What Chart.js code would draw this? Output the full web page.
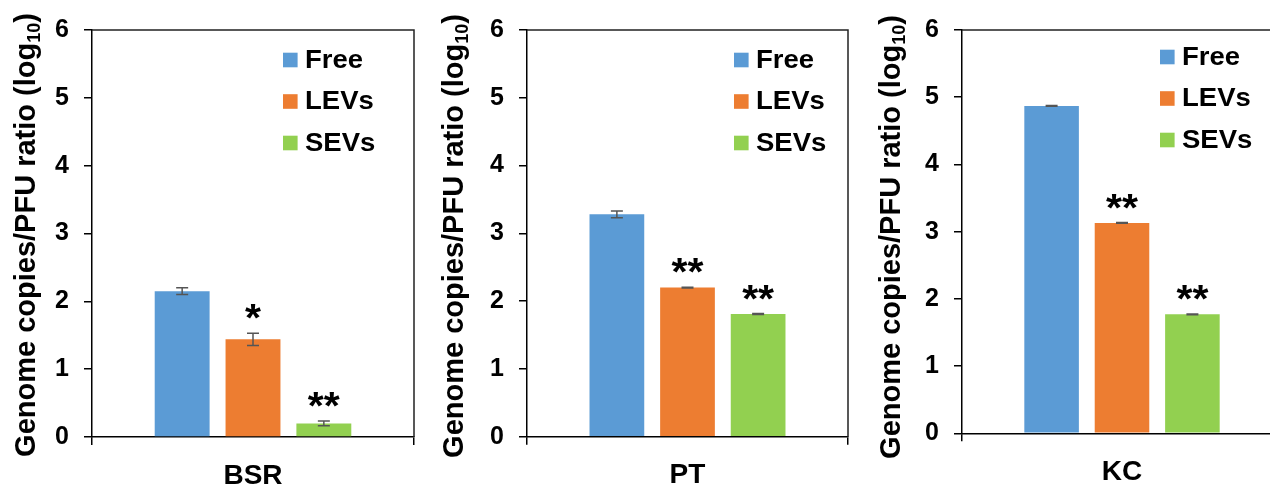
<!DOCTYPE html>
<html><head><meta charset="utf-8">
<script src="https://cdn.jsdelivr.net/npm/chart.js@4/dist/chart.umd.min.js"></script>
<style>
html,body{margin:0;padding:0;background:#fff;overflow:hidden;width:1270px;height:487px}
.panel{position:absolute;top:0;height:487px;overflow:hidden}
canvas{display:block}
</style></head><body>
<div class="panel" id="p0"><canvas id="c0"></canvas></div>
<div class="panel" id="p1"><canvas id="c1"></canvas></div>
<div class="panel" id="p2"><canvas id="c2"></canvas></div>
<script>
// ---- data ----
const categories = ['BSR', 'PT', 'KC'];
const seriesNames = ['Free', 'LEVs', 'SEVs'];
const freeValues = [2.15, 3.28, 4.87];
const levsValues = [1.44, 2.20, 3.13];
const sevsValues = [0.20, 1.81, 1.77];
const freeErrors = [0.05, 0.05, 0.005];
const levsErrors = [0.09, 0.006, 0.006];
const sevsErrors = [0.035, 0.006, 0.006];
const freeMarks = ['', '', ''];
const levsMarks = ['*', '**', '**'];
const sevsMarks = ['**', '**', '**'];
const yTicks = [0, 1, 2, 3, 4, 5, 6];
const yTitleMain = 'Genome copies/PFU ratio (log';
const yTitleSub = '10';
const yTitleEnd = ')';

// ---- styles / layout ----
const seriesColors = ['#5B9BD5', '#ED7D31', '#92D050'];
const FONT = '"Liberation Sans", Arial, Helvetica, sans-serif';
const H = 487;
const panels = [
  {left: 0,   visW: 430, canvasW: 430, area: {l: 92,  r: 414, t: 29,   b: 437},   legend: {x: 283, y: 60}, title: {x: 35, cy: 235}},
  {left: 430, visW: 430, canvasW: 430, area: {l: 97,  r: 418, t: 28.3, b: 436.7}, legend: {x: 304, y: 60}, title: {x: 33, cy: 236}},
  {left: 860, visW: 410, canvasW: 440, area: {l: 102, r: 422, t: 24.3, b: 433.3}, legend: {x: 300, y: 57}, title: {x: 40, cy: 237}}
];

const valuesBySeries = [freeValues, levsValues, sevsValues];
const errorsBySeries = [freeErrors, levsErrors, sevsErrors];
const marksBySeries = [freeMarks, levsMarks, sevsMarks];

const extrasPlugin = {
  id: 'extras',
  afterDatasetsDraw(chart, args, opts) {
    const ctx = chart.ctx;
    const ys = chart.scales.y;
    const ca = chart.chartArea;
    const i = opts.index;
    const p = panels[i];
    ctx.save();
    // frame (top & right)
    ctx.strokeStyle = '#222';
    ctx.lineWidth = 1.5;
    ctx.beginPath();
    ctx.moveTo(ca.left, ca.top);
    ctx.lineTo(ca.right, ca.top);
    ctx.lineTo(ca.right, ca.bottom);
    ctx.stroke();
    // error bars and significance marks
    chart.data.datasets.forEach((ds, k) => {
      const bar = chart.getDatasetMeta(k).data[0];
      const v = valuesBySeries[k][i];
      const e = errorsBySeries[k][i];
      const yT = ys.getPixelForValue(v + e);
      const yB = ys.getPixelForValue(v - e);
      const x = bar.x;
      ctx.strokeStyle = '#555';
      ctx.lineWidth = 1.5;
      ctx.beginPath();
      ctx.moveTo(x, yT); ctx.lineTo(x, yB);
      ctx.moveTo(x - 6, yT); ctx.lineTo(x + 6, yT);
      ctx.moveTo(x - 6, yB); ctx.lineTo(x + 6, yB);
      ctx.stroke();
      const m = marksBySeries[k][i];
      if (m) {
        ctx.save();
        ctx.fillStyle = '#000';
        ctx.font = 'bold 38px ' + FONT;
        ctx.textAlign = 'center';
        ctx.textBaseline = 'alphabetic';
        ctx.translate(x, yT - 2);
        ctx.scale(1.08, 1);
        ctx.fillText(m, 0, 0);
        ctx.restore();
      }
    });
    // legend
    chart.data.datasets.forEach((ds, k) => {
      const cy = p.legend.y + k * 41.5;
      ctx.fillStyle = ds.backgroundColor;
      ctx.fillRect(p.legend.x, cy - 7.3, 14.6, 14.6);
      ctx.save();
      ctx.fillStyle = '#000';
      ctx.font = 'bold 25px ' + FONT;
      ctx.textAlign = 'left';
      ctx.textBaseline = 'middle';
      ctx.translate(p.legend.x + 22, cy + 1);
      ctx.scale(1.1, 1);
      ctx.fillText(ds.label, 0, 0);
      ctx.restore();
    });
    // y title with subscript
    ctx.translate(p.title.x, p.title.cy);
    ctx.rotate(-Math.PI / 2);
    const fMain = 'bold 29px ' + FONT, fSub = 'bold 18px ' + FONT;
    ctx.font = fMain; const w1 = ctx.measureText(yTitleMain).width; const w3 = ctx.measureText(yTitleEnd).width;
    ctx.font = fSub; const w2 = ctx.measureText(yTitleSub).width;
    let tx = -(w1 + w2 + w3) / 2;
    ctx.fillStyle = '#000';
    ctx.textAlign = 'left';
    ctx.textBaseline = 'alphabetic';
    ctx.font = fMain; ctx.fillText(yTitleMain, tx, 0); tx += w1;
    ctx.font = fSub; ctx.fillText(yTitleSub, tx, 5); tx += w2;
    ctx.font = fMain; ctx.fillText(yTitleEnd, tx, 0);
    ctx.restore();
  }
};

panels.forEach((p, i) => {
  const div = document.getElementById('p' + i);
  div.style.left = p.left + 'px';
  div.style.width = p.visW + 'px';
  const cv = document.getElementById('c' + i);
  cv.width = p.canvasW; cv.height = H;
  cv.style.width = p.canvasW + 'px'; cv.style.height = H + 'px';
  new Chart(cv, {
    type: 'bar',
    data: {
      labels: [categories[i]],
      datasets: seriesNames.map((n, k) => ({
        label: n,
        data: [valuesBySeries[k][i]],
        backgroundColor: seriesColors[k],
        borderWidth: 0,
        categoryPercentage: 0.66,
        barPercentage: 0.775
      }))
    },
    options: {
      responsive: false,
      animation: false,
      devicePixelRatio: 1,
      layout: {padding: {top: p.area.t, right: p.canvasW - p.area.r, left: 0, bottom: 0}},
      plugins: {legend: {display: false}, tooltip: {enabled: false}, extras: {index: i}},
      scales: {
        x: {
          type: 'category',
          afterFit: s => { s.height = H - p.area.b; },
          grid: {drawOnChartArea: false, drawTicks: true, tickLength: 8, color: '#000', lineWidth: 1.5, offset: true},
          border: {display: true, color: '#000', width: 1.5},
          ticks: {color: '#000', font: {family: FONT, size: 28, weight: 'bold'}, padding: 14}
        },
        y: {
          min: yTicks[0], max: yTicks[yTicks.length - 1],
          afterFit: s => { s.width = p.area.l; },
          afterBuildTicks: s => { s.ticks = yTicks.map(v => ({value: v})); },
          grid: {drawOnChartArea: false, drawTicks: true, tickLength: 8, color: '#000', lineWidth: 1.5},
          border: {display: true, color: '#000', width: 1.5},
          ticks: {color: '#000', font: {family: FONT, size: 25, weight: 'bold'}, padding: 15}
        }
      }
    },
    plugins: [extrasPlugin]
  });
});
</script>
</body></html>
